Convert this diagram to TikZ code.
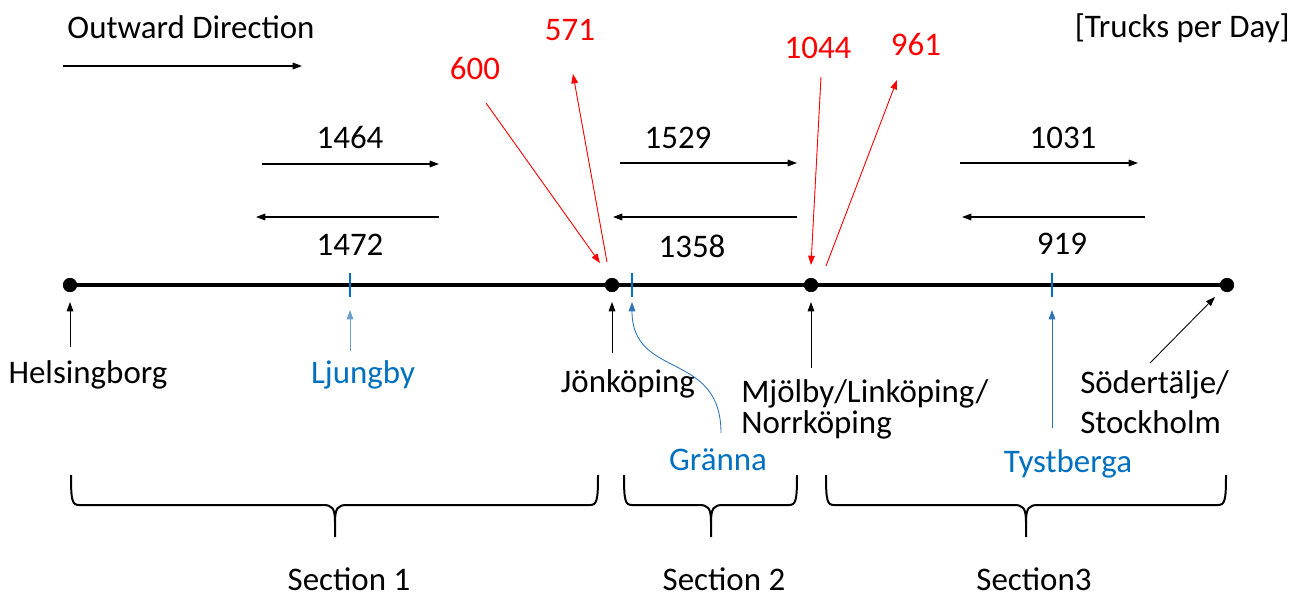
\documentclass[tikz,border=0pt]{standalone}
\usepackage{fontspec}
\setmainfont{Carlito}
\usetikzlibrary{arrows.meta}
\definecolor{obl}{HTML}{0070C0}
\definecolor{obla}{HTML}{2E75B6}
\definecolor{ored}{HTML}{FF0000}
\newcommand{\secbrace}[3]{%
  \draw[bracel] (#1,475) .. controls (#1,500) and ({#1+1},505) .. ({#1+8},505)
    -- ({#2-12},505) .. controls ({#2-3},505) and (#2,508) .. (#2,522) -- (#2,537);
  \draw[bracel] (#3,475) .. controls (#3,500) and ({#3-1},505) .. ({#3-8},505)
    -- ({#2+12},505) .. controls ({#2+3},505) and (#2,508) .. (#2,522);
}
\begin{document}
\begin{tikzpicture}[x=0.75pt,y=-0.75pt,
  txt/.style={font=\fontsize{24.7}{29}\selectfont, inner sep=0pt, anchor=base},
  bltxt/.style={txt, text=obl},
  rdtxt/.style={txt, text=ored},
  dot/.style={circle, fill=black, inner sep=0pt, minimum size=10.5pt},
  mainline/.style={line width=2.3pt},
  arr/.style={line width=0.8pt, -{Triangle[length=7pt,width=5pt]}},
  thinarr/.style={line width=0.65pt, -{Triangle[length=7pt,width=5pt]}},
  redarr/.style={thinarr, draw=ored, fill=ored},
  bluearr/.style={thinarr, draw=obla},
  tickl/.style={line width=2pt, draw=obl},
  bracel/.style={line width=1.5pt}
]
\useasboundingbox (0,0) rectangle (1304,597);

% headings
\node[txt] (outw) at (191,38) {Outward Direction};
\coordinate (ows) at (63,66);
\coordinate (owe) at (302,66);
\draw[arr] (ows) -- (owe);
\node[txt, anchor=base east] (tpd) at (1290,37) {[Trucks per Day]};

% main line and dots
\node[dot] (hel) at (70,285) {};
\node[dot] (jon) at (612,285) {};
\node[dot] (mjo) at (811,285) {};
\node[dot] (sod) at (1227,285) {};
\draw[mainline] (hel.center) -- (sod.center);
\node[dot] at (70,285) {};
\node[dot] at (612,285) {};
\node[dot] at (811,285) {};
\node[dot] at (1227,285) {};

% blue ticks
\coordinate (lju) at (350,285);
\coordinate (gra) at (632,285);
\coordinate (tys) at (1052,285);
\draw[tickl] (350,273) -- (350,297);
\draw[tickl] (632,273) -- (632,297);
\draw[tickl] (1052,273) -- (1052,297);

% flow numbers and arrows
\node[txt] (n1464) at (350,148) {1464};
\node[txt] (n1472) at (350,255) {1472};
\node[txt] (n1529) at (678,148) {1529};
\node[txt] (n1358) at (692,257) {1358};
\node[txt] (n1031) at (1063,148) {1031};
\node[txt] (n919) at (1062,254) {919};
\coordinate (f1a) at (262,164); \coordinate (f1b) at (439,164);
\coordinate (b1a) at (439,217); \coordinate (b1b) at (256,217);
\coordinate (f2a) at (620,163); \coordinate (f2b) at (797,163);
\coordinate (b2a) at (797,217); \coordinate (b2b) at (613,217);
\coordinate (f3a) at (960,163); \coordinate (f3b) at (1138,163);
\coordinate (b3a) at (1145,217); \coordinate (b3b) at (962,217);
\draw[arr] (f1a) -- (f1b);
\draw[arr] (b1a) -- (b1b);
\draw[arr] (f2a) -- (f2b);
\draw[arr] (b2a) -- (b2b);
\draw[arr] (f3a) -- (f3b);
\draw[arr] (b3a) -- (b3b);

% red flows
\node[rdtxt] (r600) at (475,79) {600};
\node[rdtxt] (r571) at (570,40) {571};
\node[rdtxt] (r1044) at (818,58) {1044};
\node[rdtxt] (r961) at (916,55) {961};
\coordinate (r600s) at (486,103); \coordinate (r600e) at (600,263);
\coordinate (r571s) at (607,262); \coordinate (r571e) at (573,74);
\coordinate (r1044s) at (821,77); \coordinate (r1044e) at (811,265);
\coordinate (r961s) at (826,266); \coordinate (r961e) at (897,80);
\draw[redarr] (r600s) -- (r600e);
\draw[redarr] (r571s) -- (r571e);
\draw[redarr] (r1044s) -- (r1044e);
\draw[redarr] (r961s) -- (r961e);

% place labels
\node[txt] (lhel) at (88,383) {Helsingborg};
\node[bltxt] (llju) at (363,383) {Ljungby};
\node[txt] (ljon) at (628,392) {Jönköping};
\node[bltxt] (lgra) at (718,470) {Gränna};
\node[txt, anchor=base west] (lmjo1) at (741,402) {Mjölby/Linköping/};
\node[txt, anchor=base west] (lmjo2) at (741,433) {Norrköping};
\node[bltxt] (ltys) at (1068,472) {Tystberga};
\node[txt, anchor=base west] (lsod1) at (1080,393) {Södertälje/};
\node[txt, anchor=base west] (lsod2) at (1080,433) {Stockholm};

\coordinate (ahel) at (70,347);
\coordinate (ajon) at (612,353);
\coordinate (amjo) at (811,368);
\coordinate (asod) at (1150,363);
\coordinate (alju) at (350,351);
\coordinate (agra) at (721,433);
\coordinate (atys) at (1052,428);
\draw[thinarr] (ahel) -- (70,302);
\draw[thinarr] (ajon) -- (612,302);
\draw[thinarr] (amjo) -- (811,302);
\draw[thinarr] (asod) -- (1215,297);
\draw[thinarr, draw=obla!70!white] (alju) -- (350,310);
\draw[bluearr] (agra) .. controls (721,350) and (632,380) .. (632,302);
\draw[bluearr] (atys) -- (1052,310);

% braces
\secbrace{71}{335}{598}
\secbrace{624}{711}{797}
\secbrace{826}{1026}{1226}
\node[txt] (s1) at (349,590) {Section 1};
\node[txt] (s2) at (724,590) {Section 2};
\node[txt] (s3) at (1034,590) {Section3};
\end{tikzpicture}
\end{document}
